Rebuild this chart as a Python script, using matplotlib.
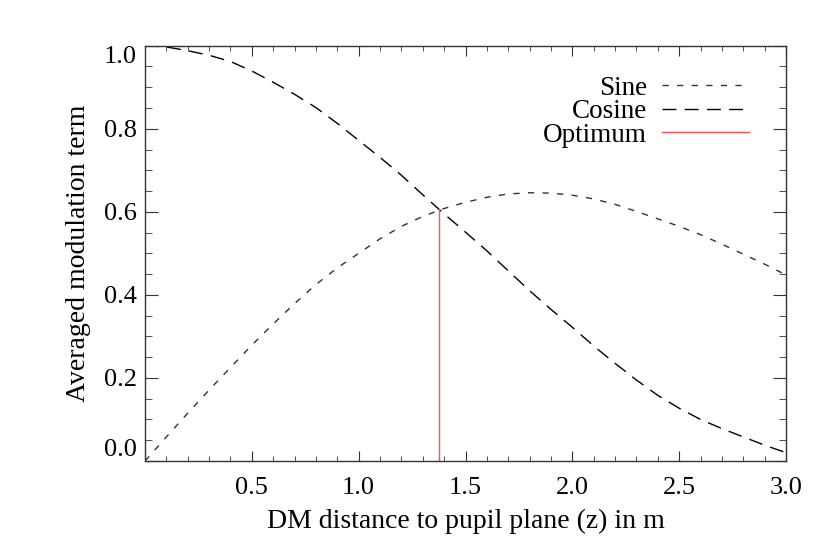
import numpy as np
import matplotlib.pyplot as plt
from matplotlib.ticker import MultipleLocator

plt.rcParams['font.family'] = ['Liberation Serif', 'DejaVu Serif']

# Valores
z = [0.0, 0.1, 0.2, 0.3, 0.4, 0.5, 0.6, 0.7, 0.8, 0.9,
     1.0, 1.1, 1.2, 1.3, 1.4, 1.5, 1.6, 1.7, 1.8, 1.9,
     2.0, 2.1, 2.2, 2.3, 2.4, 2.5, 2.6, 2.7, 2.8, 2.9, 3.0]
seno = [0.0, 0.058, 0.115, 0.171, 0.225, 0.279, 0.330, 0.379, 0.425, 0.465,
        0.500, 0.535, 0.565, 0.589, 0.608, 0.623, 0.635, 0.643, 0.646, 0.645,
        0.640, 0.631, 0.618, 0.601, 0.583, 0.565, 0.545, 0.522, 0.498, 0.474,
        0.448]
coseno = [1.0, 0.997, 0.988, 0.977, 0.962, 0.939, 0.912, 0.883, 0.851, 0.813,
          0.772, 0.731, 0.688, 0.641, 0.595, 0.551, 0.506, 0.458, 0.410, 0.365,
          0.322, 0.277, 0.235, 0.195, 0.158, 0.127, 0.100, 0.078, 0.058, 0.038,
          0.02]
z_opt = 1.375
valor_opt = 0.606

fig = plt.figure(figsize=(8.3, 5.54), dpi=100)
ax = fig.add_axes([0.1747, 0.1679, 0.947 - 0.1747, 0.9175 - 0.1679])

ax.plot(z, seno, color='#333333', lw=1.0, dashes=(4.5, 6), label='Sine')
ax.plot(z, coseno, color='black', lw=1.0, dashes=(10, 6), label='Cosine')
ax.plot([z_opt, z_opt], [0, valor_opt], color='#ff5050', lw=1.0,
        label='Optimum')

ax.set_xlim(0, 3.0)
ax.set_ylim(0, 1.0)
ax.set_xticks([0.5, 1.0, 1.5, 2.0, 2.5, 3.0])
ax.set_xticklabels(['0.5', '1.0', '1.5', '2.0', '2.5', '3.0'])
ax.xaxis.set_minor_locator(MultipleLocator(0.1))
ax.set_yticks(np.arange(0, 1.01, 0.2))
ax.set_yticklabels(['0.0', '0.2', '0.4', '0.6', '0.8', '1.0'])
ax.yaxis.set_minor_locator(MultipleLocator(0.05))

ax.tick_params(axis='both', which='both', direction='in',
               top=True, right=True, labelsize=19, color='#333333')
ax.tick_params(axis='x', which='major', length=7, pad=11.5)
ax.tick_params(axis='x', which='minor', length=3.3)
ax.tick_params(axis='y', which='major', length=9.5, pad=6)
ax.tick_params(axis='y', which='minor', length=5)
for s in ax.spines.values():
    s.set_color('#333333')
    s.set_linewidth(1.0)

# Las etiquetas extremas del eje y quedan dentro del marco (estilo IDL)
etiquetas_y = ax.get_yticklabels()
etiquetas_y[0].set_va('bottom')
etiquetas_y[-1].set_va('top')

ax.set_xlabel('DM distance to pupil plane (z) in m', fontsize=20,
              labelpad=7)
ax.set_ylabel('Averaged modulation term', fontsize=20, labelpad=9)

ax.legend(loc='upper right', bbox_to_anchor=(0.963, 0.96), frameon=False,
          markerfirst=False, fontsize=19.5, handlelength=3.2,
          handletextpad=0.55, labelspacing=-0.06, borderpad=0)

plt.savefig('out.png', dpi=100)
